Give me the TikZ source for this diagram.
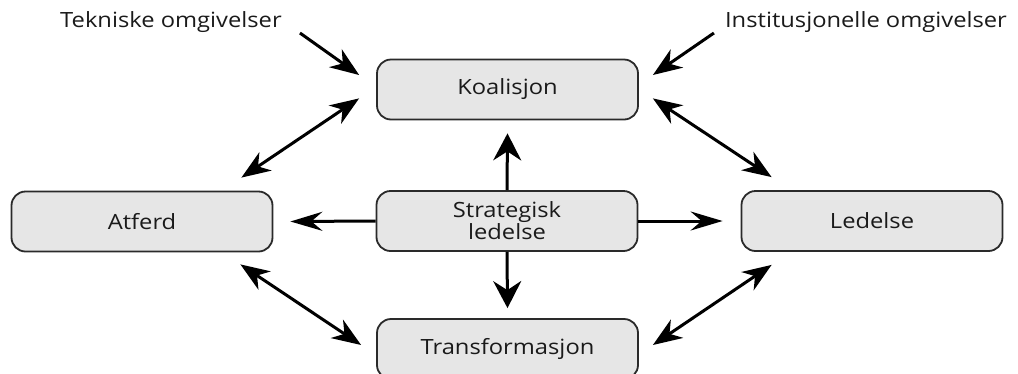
\documentclass[tikz,border=0pt]{standalone}
\usepackage{fontspec}
\setmainfont{Open Sans}[FakeStretch=1.13]
\usetikzlibrary{arrows.meta,calc}

\definecolor{boxfill}{HTML}{E6E6E6}
\definecolor{boxline}{HTML}{2A2A2A}
\definecolor{inkc}{HTML}{1A1A1A}

\tikzset{
  block/.style={draw=boxline, line width=1.8pt, fill=boxfill, rounded corners=14pt,
    minimum width=261pt, minimum height=60pt, inner sep=0pt, align=center,
    font=\fontsize{21}{22}\selectfont, text=inkc},
  label/.style={inner sep=0pt, font=\fontsize{21}{22}\selectfont, text=inkc},
  link/.style={line width=3pt, draw=black},
  dtip/.tip={Stealth[length=29pt, width=22pt, inset=9pt]},
  htip/.tip={Stealth[length=32pt, width=19pt, inset=11pt]},
  vtip/.tip={Stealth[length=27pt, width=28pt, inset=9pt]},
}

\begin{document}
\begin{tikzpicture}[x=1pt, y=-1pt]
  \useasboundingbox (0,0) rectangle (1018,373);

  % boxes
  \node[block] (K) at (507.5,89.5) {Koalisjon};
  \node[block] (S) at (507,221) {Strategisk\\ledelse};
  \node[block] (A) at (142,221.5) {Atferd};
  \node[block] (L) at (872,221) {Ledelse};
  \node[block] (T) at (507.5,349) {Transformasjon};

  % environment labels
  \node[label] (tek) at (171,22) {Tekniske omgivelser};
  \node[label] (ins) at (866,22) {Institusjonelle omgivelser};

  % environments acting on the coalition
  \draw[link, -{dtip}] ($(tek.east)+(18,11)$) -- ($(K.west)+(-17,-14.5)$);
  \draw[link, -{dtip}] ($(ins.west)+(-11,11)$) -- ($(K.east)+(14,-14.5)$);

  % strategic management outwards
  \draw[link, -{vtip}] (S.north) -- ($(K.south)+(0,13)$);
  \draw[link, -{vtip}] (S.south) -- ($(T.north)+(0,-10)$);
  \draw[link, -{htip}] (S.west) -- ($(A.east)+(17,0)$);
  \draw[link, -{htip}] (S.east) -- ($(L.west)+(-18,0)$);

  % mutual relations around the ring
  \draw[link, {dtip}-{dtip}] ($(K.south west)+(-17,-22)$) -- ($(A.north east)+(-32,-13)$);
  \draw[link, {dtip}-{dtip}] ($(K.south east)+(14,-22)$) -- ($(L.north west)+(31,-13)$);
  \draw[link, {dtip}-{dtip}] ($(A.south east)+(-33,12)$) -- ($(T.west)+(-15,-4)$);
  \draw[link, {dtip}-{dtip}] ($(L.south west)+(31,13)$) -- ($(T.east)+(14,-4)$);
\end{tikzpicture}
\end{document}
